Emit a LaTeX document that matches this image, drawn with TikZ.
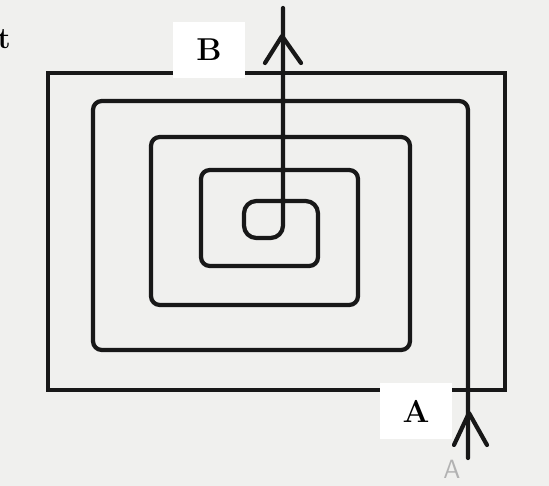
\documentclass[tikz,border=0pt]{standalone}
\usepackage{tikz}
\usetikzlibrary{positioning}
\definecolor{paper}{RGB}{240,240,238}
\definecolor{ink}{RGB}{24,24,24}

\begin{document}
\begin{tikzpicture}[x=0.02cm, y=-0.02cm,
  wire/.style={draw=ink, line width=2.4pt, line cap=round, line join=round},
  coil/.style={wire, rounded corners=5pt},
  tag/.style={rectangle, fill=white, inner sep=0pt, minimum width=1.46cm,
              minimum height=1.12cm, font=\fontsize{18}{20}\selectfont\bfseries},
  faint/.style={text=gray!60, font=\sffamily\fontsize{15}{15}\selectfont}
]
\useasboundingbox[fill=paper] (0,0) rectangle (549,486);

% outer turn
\draw[wire, line cap=butt, line join=miter] (48,73) rectangle (505,390);

\coordinate (tail) at (468,458);
\coordinate (head) at (283,8);

% spiral from A inwards, out through B
\draw[coil] (tail) -- (468,101) -- (93,101) -- (93,350) -- (410,350)
  -- (410,137) -- (151,137) -- (151,305) -- (358,305) -- (358,170)
  -- (201,170) -- (201,266) -- (318,266) [rounded corners=7pt] -- (318,201)
  -- (244,201) -- (244,238) -- (283,238) -- (head);

\coordinate (uptip) at (282,36);
\coordinate (intip) at (469,413);
\draw[wire] (uptip) ++(-17,27) -- (uptip) -- ++(19,27);
\draw[wire] (intip) ++(-15,32) -- (intip) -- ++(18,32);

\node[tag] (B) at (209,50) {B};
\node[tag] (A) at (416,411) {A};
\node[faint] (a) at (452,469) {A};
\node[anchor=base east, font=\fontsize{17}{17}\selectfont\bfseries] (cut) at (17,49) {xt};

\end{tikzpicture}
\end{document}
